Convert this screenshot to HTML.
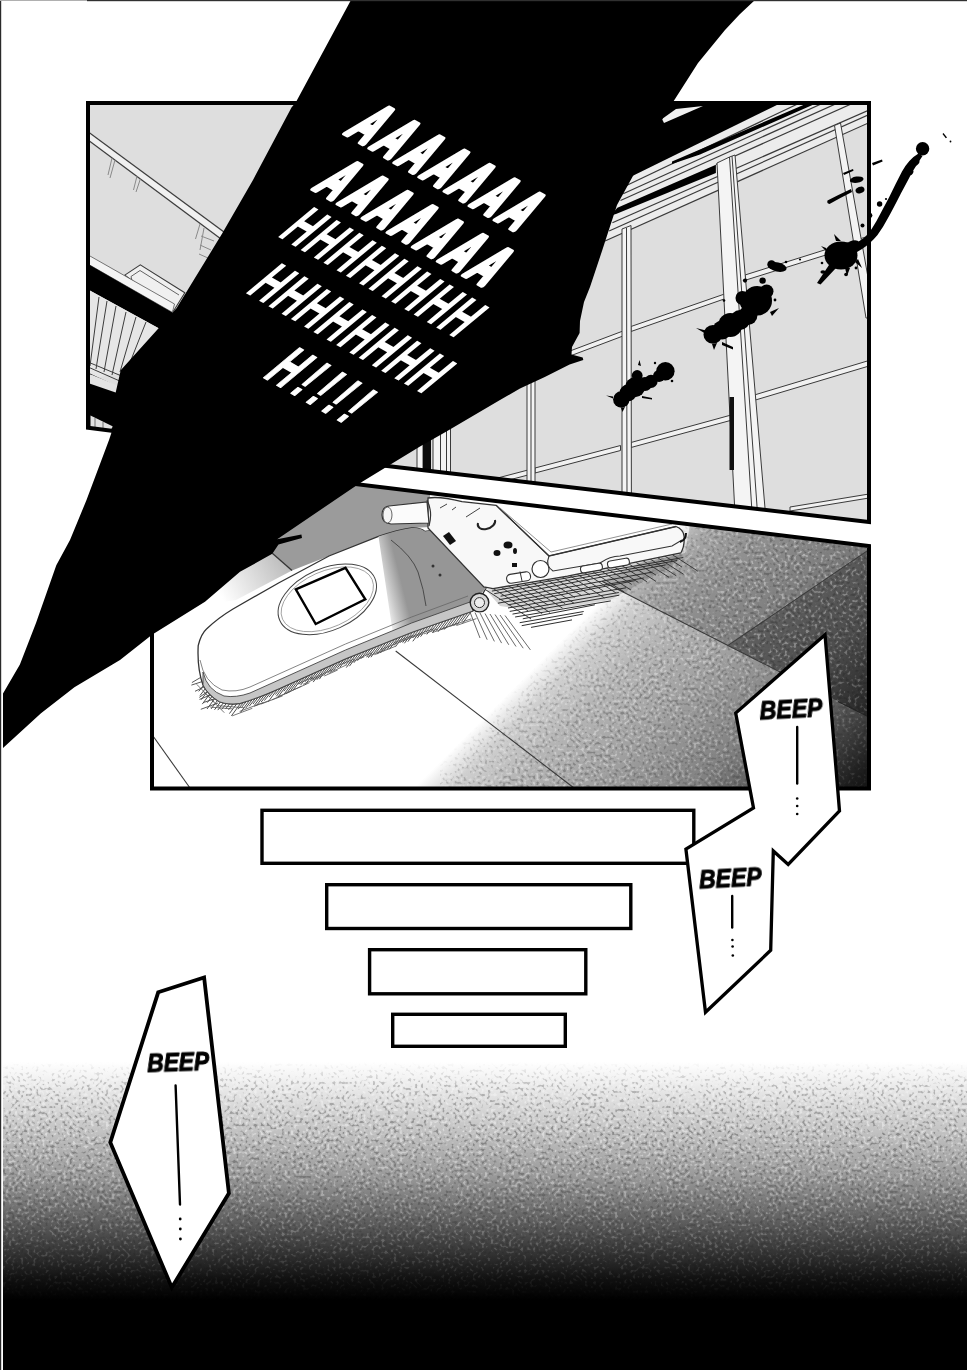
<!DOCTYPE html>
<html lang="en">
<head>
<meta charset="utf-8">
<title>Page</title>
<style>
html,body{margin:0;padding:0;background:#fff;}
body{width:967px;height:1370px;overflow:hidden;position:relative;font-family:"Liberation Sans",sans-serif;}
svg{display:block;position:absolute;left:0;top:0;}
.scream{font-family:"Liberation Sans",sans-serif;font-weight:700;font-style:normal;fill:#fff;}
.beep{font-family:"Liberation Sans",sans-serif;font-weight:700;font-style:italic;fill:#000;}
</style>
</head>
<body>
<svg width="967" height="1370" viewBox="0 0 967 1370">
<defs>
  <linearGradient id="gBottom" x1="0" y1="1062" x2="0" y2="1300" gradientUnits="userSpaceOnUse">
    <stop offset="0" stop-color="#ffffff"/>
    <stop offset="0.06" stop-color="#f4f4f4"/>
    <stop offset="0.17" stop-color="#dcdcdc"/>
    <stop offset="0.32" stop-color="#bcbcbc"/>
    <stop offset="0.48" stop-color="#999999"/>
    <stop offset="0.64" stop-color="#686868"/>
    <stop offset="0.80" stop-color="#343434"/>
    <stop offset="0.91" stop-color="#111111"/>
    <stop offset="1" stop-color="#000000"/>
  </linearGradient>
  <linearGradient id="gFloor" x1="606" y1="596" x2="832" y2="822" gradientUnits="userSpaceOnUse">
    <stop offset="0" stop-color="#ffffff"/>
    <stop offset="0.08" stop-color="#d0d0d0"/>
    <stop offset="0.2" stop-color="#b6b6b6"/>
    <stop offset="0.375" stop-color="#a2a2a2"/>
    <stop offset="0.625" stop-color="#808080"/>
    <stop offset="0.81" stop-color="#484848"/>
    <stop offset="0.95" stop-color="#1e1e1e"/>
    <stop offset="1" stop-color="#141414"/>
  </linearGradient>
  <clipPath id="cp1"><polygon points="88,103 869,103 869,522 385,465.8 88,427.7"/></clipPath>
  <clipPath id="cp2"><polygon points="152,459.5 869,546 869,788.5 152,788.5"/></clipPath>
  <linearGradient id="gTileL" x1="285" y1="562" x2="222" y2="598" gradientUnits="userSpaceOnUse">
    <stop offset="0" stop-color="#bcbcbc"/>
    <stop offset="0.5" stop-color="#dedede"/>
    <stop offset="1" stop-color="#ffffff"/>
  </linearGradient>
  <linearGradient id="gFace" x1="378" y1="590" x2="402" y2="584" gradientUnits="userSpaceOnUse">
    <stop offset="0" stop-color="#ffffff"/>
    <stop offset="0.5" stop-color="#c8c8c8"/>
    <stop offset="1" stop-color="#969696"/>
  </linearGradient>
  <filter id="grain" x="0" y="0" width="100%" height="100%" color-interpolation-filters="sRGB">
    <feTurbulence type="fractalNoise" baseFrequency="0.33" numOctaves="1" seed="7" result="n"/>
    <feColorMatrix in="n" type="matrix" values="0 0 0 0 1  0 0 0 0 1  0 0 0 0 1  7 0 0 0 -3.9"/>
  </filter>
  <filter id="grainD" x="0" y="0" width="100%" height="100%" color-interpolation-filters="sRGB">
    <feTurbulence type="fractalNoise" baseFrequency="0.33" numOctaves="1" seed="7" result="n"/>
    <feColorMatrix in="n" type="matrix" values="0 0 0 0 0  0 0 0 0 0  0 0 0 0 0  -7 0 0 0 3.1"/>
  </filter>
  <mask id="mBottom" maskUnits="userSpaceOnUse" x="0" y="1050" width="967" height="320">
    <rect x="0" y="1050" width="967" height="320" fill="url(#gBottomM)"/>
  </mask>
  <linearGradient id="gBottomM" x1="0" y1="1062" x2="0" y2="1300" gradientUnits="userSpaceOnUse">
    <stop offset="0" stop-color="#000"/>
    <stop offset="0.1" stop-color="#999"/>
    <stop offset="0.3" stop-color="#ccc"/>
    <stop offset="0.6" stop-color="#888"/>
    <stop offset="0.85" stop-color="#333"/>
    <stop offset="1" stop-color="#000"/>
  </linearGradient>
  <mask id="mFloor" maskUnits="userSpaceOnUse" x="150" y="450" width="722" height="340">
    <rect x="150" y="450" width="722" height="340" fill="url(#gFloorM)"/>
  </mask>
  <linearGradient id="gFloorM" x1="606" y1="596" x2="832" y2="822" gradientUnits="userSpaceOnUse">
    <stop offset="0" stop-color="#000"/>
    <stop offset="0.06" stop-color="#888"/>
    <stop offset="0.3" stop-color="#bbb"/>
    <stop offset="0.7" stop-color="#777"/>
    <stop offset="1" stop-color="#222"/>
  </linearGradient>
</defs>

<!-- page -->
<rect x="0" y="0" width="967" height="1370" fill="#ffffff"/>

<!-- bottom gradient -->
<g id="bottom-gradient">
  <rect x="3" y="1060" width="964" height="310" fill="url(#gBottom)"/>
  <g mask="url(#mBottom)"><rect x="3" y="1060" width="964" height="250" fill="#fff" filter="url(#grain)" opacity="0.55"/></g>
  <g mask="url(#mBottom)"><rect x="3" y="1060" width="964" height="250" fill="#000" filter="url(#grainD)" opacity="0.35"/></g>
</g>

<!-- PANEL 1 -->
<g id="panel1">
  <polygon points="88,103 869,103 869,522 385,465.8 88,427.7" fill="#dedede"/>
  <g id="p1-art" clip-path="url(#cp1)">
  <!-- left: building exterior -->
  <g id="p1-left">
    <!-- handrail beam (double line) -->
    <polygon points="88,131.7 88,140 221,239 224,232.1" fill="#f0f0f0"/>
    <g stroke="#3e3e3e" stroke-width="1.3" fill="none">
      <line x1="88" y1="131.7" x2="224" y2="232.1"/>
      <line x1="88" y1="140" x2="221" y2="239"/>
    </g>
    <g stroke="#8a8a8a" stroke-width="1" fill="none">
      <path d="M112,158 L108,175 M115,160 L110,178"/>
      <path d="M137,176 L133.5,190 M140.5,178.5 L136,192"/>
      <path d="M200,224 L195.5,239 M204,228 L200,250"/>
      <path d="M201,236 L214,241 M200,245 L211,250 M199,254 L208,258"/>
    </g>
    <!-- box -->
    <polygon points="124.8,275.1 140.3,264.8 184.8,292.7 173.4,311.3" fill="#f0f0f0" stroke="#3c3c3c" stroke-width="1.1"/>
    <path d="M131,276.5 L140,270.5 L179,295 M131,276.5 L132,280.5 L171,305" fill="none" stroke="#555" stroke-width="0.9"/>
    <!-- white band + dark beam -->
    <polygon points="88,254.9 174.5,304 172.4,312.4 88,264.1" fill="#f4f4f4" stroke="#555" stroke-width="0.8"/>
    <polygon points="88,264.1 172.4,312.4 180,316 160,329 88,289.4" fill="#000"/>
    <!-- railing region -->
    <polygon points="88,289.4 160,329 122,372 88,380" fill="#e6e6e6"/>
    <g stroke="#3c3c3c" stroke-width="1" fill="none">
      <path d="M99,297 L90,366"/>
      <path d="M107,301 L96,369"/>
      <path d="M116,306 L104,372"/>
      <path d="M126,312 L112,375"/>
      <path d="M136,317 L120,372"/>
      <path d="M146,322 L131,360"/>
      <path d="M88,362 L124,377"/>
      <path d="M88,367 L122,382"/>
      <path d="M88,373 L120,388"/>
    </g>
    <!-- lower black -->
    <polygon points="88,381 122,391 160,380 160,440 88,440" fill="#000"/>
    <polygon points="88,376 92,375 124,388 120,394 88,383" fill="#e4e4e4"/>
    <polygon points="90.5,415.5 113,426.5 111,429.5 90.5,428" fill="#e0e0e0"/>
    <g stroke="#555" stroke-width="0.8"><line x1="95" y1="418" x2="95" y2="428"/><line x1="103" y1="422" x2="103" y2="428.5"/></g>
  </g>

  <!-- right: window -->
  <g id="p1-window">
    <!-- top frame (light) -->
    <polygon points="600,191.8 780,103.6 869,100 869,122.7 600,243.2" fill="#ececec"/>
    <!-- black band -->
    <polygon points="600,103 781,103 629.8,177.2 600,191.8" fill="#000"/>
    <polygon points="676,109 703,106 664,123 662,119" fill="#f0f0f0"/>
    <g stroke="#3a3a3a" stroke-width="1.2" fill="none">
      <line x1="626.5" y1="185.5" x2="806" y2="100"/>
      <line x1="623.2" y1="193.7" x2="831" y2="99.5"/>
      <line x1="620.5" y1="200.5" x2="850" y2="97.5"/>
      <line x1="716" y1="164.5" x2="869" y2="96"/>
      <line x1="612.4" y1="222.7" x2="869" y2="110"/>
      <line x1="609.1" y1="231" x2="869" y2="114.5"/>
      <line x1="605" y1="241" x2="869" y2="122.7"/>
    </g>
    <polygon points="617.4,207.8 715.9,164.8 715.9,173 616.6,213.8 610,216" fill="#000"/>
    <polygon points="672,161.5 700,149.5 808,103 817,103 700,154.5 672,164" fill="#000"/>

    <!-- horizontal rails -->
    <g fill="#f1f1f1" stroke="#3a3a3a" stroke-width="1">
      <polygon points="570,351 623,331 623,336 570,356"/>
      <polygon points="631,326.5 726,293.5 727,298 631,331.5"/>
      <polygon points="745,275 869,236 869,241.5 746,280"/>
      <polygon points="448,491 528,470 528,475 448,496"/>
      <polygon points="535,468 620.5,445.5 620.5,450.5 535,473"/>
      <polygon points="631,442.5 733,414.5 734,419.5 631,447.5"/>
      <polygon points="755,394.8 869,360.5 869,366 755.5,400"/>
      <polygon points="790,507 869,494 869,498 790,511"/>
    </g>
    <!-- mullions -->
    <g fill="#f4f4f4" stroke="#3a3a3a" stroke-width="1">
      <polygon points="622,229 631,225.5 631.4,500 622,500"/>
      <polygon points="527,383 535,379 535,485 527,485"/>
      <polygon points="433,428 450.5,418 450.5,474 433,474"/>
      <polygon points="417,438 423,434 423,472 417,472"/>
      <polygon points="717,163 729.5,157 735,155 766,520 735.3,520"/>
      <polygon points="834.5,125.5 840.5,123 869,283 869,318 866,318"/>
    </g>
    <g stroke="#3a3a3a" stroke-width="1" fill="none">
      <line x1="626.5" y1="228" x2="627" y2="500"/>
      <line x1="729.5" y1="157" x2="752.5" y2="520"/>
      <line x1="732" y1="156" x2="758" y2="520"/>
      <line x1="531" y1="381" x2="531" y2="485"/>
      <line x1="440.5" y1="424" x2="440.5" y2="474"/><line x1="446.5" y1="420" x2="446.5" y2="474"/>
    </g>
    <rect x="729.5" y="397" width="4.5" height="73" fill="#111"/>
    <polygon points="423,434 431,429 431,474 423,474" fill="#0a0a0a"/>
  </g>
</g>
  <polygon points="88,103 869,103 869,522 385,465.8 88,427.7" fill="none" stroke="#000" stroke-width="4" stroke-linejoin="miter"/>
</g>

<!-- PANEL 2 -->
<g id="panel2">
  <polygon points="152,459.5 869,546 869,788.5 152,788.5" fill="#ffffff"/>
  <g id="p2-art" clip-path="url(#cp2)">
  <rect x="150" y="450" width="722" height="340" fill="url(#gFloor)"/>
  <polygon points="602,581.3 728,645.4 869,549.7 869,546 690,524 685,553 640,563" fill="#000" opacity="0.2"/>
  <polygon points="728,645.4 869,549.7 869,717 779,671.4" fill="#000" opacity="0.40"/>
  <g mask="url(#mFloor)"><rect x="440" y="480" width="432" height="310" fill="#fff" filter="url(#grain)" opacity="0.5"/></g>
  <g mask="url(#mFloor)"><rect x="440" y="480" width="432" height="310" fill="#000" filter="url(#grainD)" opacity="0.3"/></g>
  <!-- shadowed floor top-left -->
  <polygon points="272.3,553.2 262,540 340,470 430,470 430,527 411.6,528 378.5,536.4 329,556 292,570.6" fill="#9b9b9b"/>
  <polygon points="272.3,553.2 292,570.6 236,600 196,606 230,560" fill="url(#gTileL)"/>
  <line x1="272.3" y1="553.2" x2="292" y2="570.6" stroke="#333" stroke-width="1.3"/>
  <!-- floor tile lines -->
  <g stroke="#3a3a3a" stroke-width="1.1" fill="none">
    <line x1="395.7" y1="651" x2="574" y2="788"/>
    <line x1="153" y1="736" x2="190" y2="788"/>
    <line x1="602" y1="581.3" x2="779" y2="671.4"/>
    <line x1="779" y1="671.4" x2="800" y2="682" stroke="#222"/>
    <line x1="728" y1="645.4" x2="869" y2="549.7"/>
    <line x1="838" y1="701.4" x2="869" y2="717" stroke="#222"/>
  </g>

  <!-- hatching shadows -->
  <g id="hatch">
    <polygon points="486,590 684,554 672,566 610,600 540,612 500,606" fill="#000" opacity="0.16"/>
    <path d="M491.9,591.1 L683.3,557.5 M494.2,593.7 L677.1,560.5 M500.6,596.2 L665.5,564.9 M499.1,599.7 L652.4,572.1 M497.9,603.2 L643.8,578.0 M507.8,604.9 L634.8,580.7 M508.0,608.0 L626.0,587.8 M509.7,611.4 L618.8,592.5 M512.5,614.1 L619.3,595.2 M515.1,617.0 L610.8,600.9 M522.8,618.8 L594.8,604.8 M519.7,622.7 L583.7,611.5 M521.7,625.7 L582.7,614.1 M531.0,627.4 L572.0,619.9" stroke="#2e2e2e" stroke-width="1" fill="none"/>
    <path d="M484.3,588.9 L531.1,619.0 M491.8,587.6 L528.2,610.9 M499.4,586.2 L542.2,613.7 M506.9,584.8 L549.8,612.4 M514.4,583.4 L548.2,605.2 M521.9,582.1 L562.6,608.2 M529.5,580.7 L565.1,603.6 M537.0,579.3 L573.9,603.1 M544.5,578.0 L574.8,597.5 M552.0,576.6 L581.9,595.8 M559.6,575.2 L589.9,594.8 M567.1,573.9 L604.4,597.9 M574.6,572.5 L603.4,591.0 M582.1,571.1 L615.8,592.8 M589.7,569.8 L624.2,592.0 M597.2,568.4 L631.0,590.1 M604.7,567.0 L631.7,584.4 M612.2,565.7 L638.4,582.5 M619.8,564.3 L646.8,581.7 M627.3,562.9 L656.0,581.4 M634.8,561.6 L656.0,575.2 M642.3,560.2 L669.1,577.4 M649.8,558.8 L676.3,575.8 M657.4,557.5 L683.6,574.3 M664.9,556.1 L682.0,567.1 M672.4,554.7 L697.8,571.1" stroke="#2e2e2e" stroke-width="0.9" fill="none"/>
    <path d="M470.0,612.0 L480.0,638.0 M475.0,612.5 L487.2,639.7 M480.0,613.0 L494.4,641.4 M485.0,613.5 L501.6,643.1 M490.0,614.0 L508.8,644.8 M495.0,614.5 L516.0,646.5 M500.0,615.0 L523.2,648.2 M505.0,615.5 L530.4,649.9" stroke="#444" stroke-width="0.8" fill="none"/>
    <path d="M203.5,685.5 L198.7,691.4 M205.9,687.9 L200.0,695.5 M208.3,690.3 L201.2,699.7 M210.7,692.7 L202.3,704.1 M213.0,695.2 L207.2,702.7 M215.4,697.6 L207.0,709.0 M217.8,700.0 L211.1,708.9 M220.2,702.4 L214.5,709.8 M223.5,702.7 L217.8,710.1 M226.8,702.9 L221.7,709.4 M230.1,703.2 L225.5,709.0 M233.5,703.5 L228.5,709.8 M236.8,703.7 L229.4,713.6 M240.1,704.0 L231.4,715.9 M243.2,702.9 L238.1,709.2 M246.2,701.7 L241.6,707.3 M249.3,700.6 L240.6,712.4 M252.3,699.4 L245.6,708.3 M255.4,698.3 L249.2,706.3 M258.4,697.1 L253.0,704.0 M261.5,696.0 L254.5,705.2 M264.5,694.8 L256.5,705.6 M267.6,693.7 L261.2,702.0 M270.6,692.5 L264.4,700.6 M273.7,691.4 L269.1,697.1 M276.7,690.2 L268.4,701.6 M279.8,689.1 L275.3,694.6 M282.8,687.7 L276.3,696.3 M285.8,686.4 L277.8,697.3 M288.8,685.0 L283.9,691.2 M291.8,683.7 L284.3,693.9 M294.8,682.3 L286.3,693.9 M297.9,681.0 L290.7,690.5 M300.9,679.6 L293.0,690.2 M303.9,678.3 L299.1,684.3 M306.9,676.9 L300.6,685.1 M309.9,675.6 L304.9,681.9 M312.9,674.2 L304.8,685.1 M315.9,672.8 L310.3,680.1 M318.9,671.5 L312.6,679.8 M321.9,670.1 L313.2,682.1 M324.9,668.8 L316.8,679.8 M327.9,667.4 L319.3,679.2 M331.0,666.1 L324.6,674.4 M334.0,664.7 L327.5,673.3 M337.0,663.4 L329.4,673.5 M340.0,662.0 L333.5,670.5 M343.0,660.7 L337.4,667.9 M346.0,659.3 L339.9,667.3 M349.0,658.1 L344.0,664.4 M352.0,656.9 L346.0,664.7 M355.0,655.7 L346.3,667.6 M358.0,654.5 L349.4,666.2 M361.0,653.3 L353.9,662.8 M364.0,652.1 L357.5,660.7 M367.0,650.9 L361.2,658.5 M370.0,649.7 L365.3,655.6 M373.0,648.5 L367.5,655.6 M376.0,647.3 L368.3,657.8 M379.1,646.1 L370.9,657.2 M382.1,644.9 L376.1,652.6 M385.1,643.7 L377.3,654.2 M388.1,642.5 L380.3,653.0 M391.1,641.3 L383.7,651.2 M394.1,640.1 L386.8,649.8 M397.1,638.9 L389.4,649.3 M400.1,637.7 L394.1,645.4 M403.1,636.5 L395.6,646.5 M406.1,635.3 L400.5,642.5 M409.1,634.1 L402.6,642.6 M412.1,632.9 L404.4,643.3 M415.2,631.8 L407.8,641.7 M418.2,630.8 L412.6,638.0 M421.3,629.7 L412.8,641.3 M424.4,628.6 L417.2,638.2 M427.5,627.5 L420.5,636.7 M430.5,626.5 L426.1,631.9 M433.6,625.4 L426.8,634.4 M436.7,624.3 L431.2,631.3 M439.7,623.3 L432.4,633.0 M442.8,622.2 L436.4,630.6 M445.9,621.1 L437.9,631.9 M448.9,620.1 L441.7,629.7 M452.0,619.0 L444.2,629.6 M455.1,617.9 L449.2,625.5 M458.1,616.9 L451.0,626.4 M461.2,615.8 L453.6,626.0 M464.3,614.7 L456.3,625.5 M467.4,613.6 L461.5,621.3 M470.4,612.6 L462.4,623.5" stroke="#3a3a3a" stroke-width="0.9" fill="none"/>
    <path d="M196.7,684.3 L214.3,702.1 M203.7,691.9 L224.3,712.7 M210.3,707.1 L232.7,708.9 M217.2,705.6 L244.5,707.8 M232.1,715.9 L252.3,708.3 M239.7,711.4 L263.6,702.4 M253.8,706.4 L269.5,700.5 M260.8,704.1 L282.6,695.9 M271.9,699.8 L290.9,691.3 M277.6,697.0 L301.6,686.2 M286.3,693.2 L309.5,682.7 M297.5,684.0 L312.6,677.2 M303.0,684.4 L325.2,674.3 M310.6,679.4 L333.4,669.2 M324.3,676.0 L337.7,670.0 M330.9,672.0 L347.0,664.7 M339.0,665.1 L354.0,659.1 M348.6,663.1 L364.3,656.8 M358.9,658.1 L372.4,652.7 M366.2,657.0 L384.9,649.6 M374.4,654.7 L396.2,646.0 M380.8,649.6 L407.3,639.1 M393.5,643.0 L412.6,635.4 M403.3,640.5 L422.7,633.7 M408.6,637.5 L434.4,628.5 M423.8,633.9 L437.6,629.1 M432.6,632.5 L447.2,627.4 M439.4,629.6 L457.7,623.2 M443.6,628.4 L471.3,618.8 M456.8,625.4 L476.4,618.6" stroke="#555" stroke-width="0.8" fill="none"/>
    <path d="M203.0,676.0 L191.9,682.6 M205.5,680.5 L191.4,685.1 M208.0,685.0 L195.0,691.3 M210.5,689.5 L199.3,697.4 M213.0,694.0 L199.5,699.4 M215.5,698.5 L203.4,702.5 M218.0,703.0 L200.8,709.3" stroke="#444" stroke-width="0.9" fill="none"/>
  </g>

  <!-- phone: lower half (front cover) -->
  <g id="phone-front">
    <path d="M198.2,645.6 Q201,634 206.5,629 Q218,618 233,609 L279,582.7 L329,556 L378.5,536.4 Q398,530 411.6,528 Q420,527.5 425,531.4 L436,530 L486,588 L473,611 L411.6,632.4 L345.5,658.8 L279.3,688.6 Q256,699 239.6,703.5 Q228,705 219.7,701.9 Q208,695 203,685 Q197,668 198.2,645.6 Z" fill="#ffffff" stroke="#333" stroke-width="1.3"/>
    <path d="M378.5,536.4 Q398,530 411.6,528 Q420,527.5 425,531.4 L436,530 L486,588 L471,605 L411.6,626 L393,634 Z" fill="url(#gFace)"/>
    <path d="M391,540 Q412,556 418,572 Q424,590 426,606" fill="none" stroke="#4a4a4a" stroke-width="1"/>
    <path d="M203,672 Q207,690 224,696 Q236,698 250,693 L345.5,650 L411.6,623 L470,602 L473,611 L411.6,632.4 L345.5,658.8 L279.3,688.6 Q256,699 239.6,703.5 Q228,705 219.7,701.9 Q208,695 203,685 Z" fill="#c6c6c6" stroke="#444" stroke-width="0.9"/>
    <path d="M200,660 Q204,682 222,690 Q236,693 250,687 L345.5,644 L411.6,617 L468,596" fill="none" stroke="#666" stroke-width="0.8"/>
    <ellipse cx="327.3" cy="599.3" rx="52" ry="31" transform="rotate(-24 327.3 599.3)" fill="none" stroke="#444" stroke-width="1"/>
    <ellipse cx="327.3" cy="599.3" rx="49" ry="28" transform="rotate(-24 327.3 599.3)" fill="none" stroke="#888" stroke-width="0.7"/>
    <polygon points="295.8,589.3 345.5,567.8 365.3,599.3 315.7,624" fill="#fff" stroke="#000" stroke-width="2.4" stroke-linejoin="miter"/>
    <circle cx="433" cy="566" r="1.5" fill="#333"/><circle cx="440" cy="575" r="1.5" fill="#333"/>
    
    <!-- hinge -->
    <circle cx="479.5" cy="602.6" r="9.3" fill="#d8d8d8" stroke="#222" stroke-width="1.4"/>
    <circle cx="479.5" cy="602.6" r="5" fill="#eee" stroke="#333" stroke-width="1"/>
  </g>

  <!-- phone: upper half -->
  <g id="phone-upper">
    <path d="M428,498 Q440,496 462,501.7 L496.2,505.4 L549,556 L676,526.5 Q683,529 684,535.8 Q685,546 680.8,553 L635.8,562.2 L567.5,576.2 L493,588.6 L483.8,587 L428,528 Z" fill="#f8f8f8" stroke="#333" stroke-width="1.3"/>
    <path d="M496.2,505.4 L549,556 L676,526.5" fill="none" stroke="#333" stroke-width="1.1"/>
    <path d="M549,556 Q545,566 553,571 L600,563 Q610,556 620,556 L672,546 L682,540" fill="none" stroke="#333" stroke-width="1.1"/>
    <path d="M500,508 L551,552 L672,524" fill="none" stroke="#777" stroke-width="0.8"/>
    <!-- side buttons -->
    <rect x="0" y="0" width="22" height="7" rx="3" transform="translate(580,566.5) rotate(-10)" fill="#fff" stroke="#333" stroke-width="1.1"/>
    <rect x="0" y="0" width="22" height="7" rx="3" transform="translate(607,561.5) rotate(-10)" fill="#fff" stroke="#333" stroke-width="1.1"/>
    <circle cx="540.5" cy="569" r="8.5" fill="#fff" stroke="#333" stroke-width="1.2"/>
    <rect x="0" y="0" width="24" height="9" rx="4" transform="translate(506,575) rotate(-9)" fill="#fff" stroke="#333" stroke-width="1.1"/>
    <line x1="520" y1="571.5" x2="522" y2="581" stroke="#333" stroke-width="1"/>
    <!-- details on back -->
    <path d="M478,523 A9,6 -20 1 0 495,520" fill="none" stroke="#222" stroke-width="2"/>
    <polygon points="443,536 449,532 456,541 450,545" fill="#111"/>
    <ellipse cx="508" cy="545" rx="4.5" ry="3.5" fill="#111"/><ellipse cx="497" cy="553" rx="3.5" ry="3" fill="#111"/><ellipse cx="515" cy="551" rx="2" ry="3" fill="#111"/>
    <rect x="512" y="563" width="5" height="4" fill="#111"/>
    <path d="M440,508 L447,504 M452,510 L456,507 M466,517 L480,508" stroke="#444" stroke-width="1" fill="none"/>
    <path d="M680,542 Q686,540 686,533" fill="none" stroke="#111" stroke-width="2"/>
    <!-- antenna -->
    <path d="M389,506 L427,502 L429,523 L391,524 Q382,523 382,515 Q382,507 389,506 Z" fill="#fbfbfb" stroke="#333" stroke-width="1.2"/>
    <ellipse cx="387.5" cy="515" rx="4.5" ry="8" fill="#f4f4f4" stroke="#555" stroke-width="0.9"/>
    <path d="M427,500 Q433,512 429,526" fill="none" stroke="#333" stroke-width="1.2"/>
  </g>
</g>
  <polygon points="152,459.5 869,546 869,788.5 152,788.5" fill="none" stroke="#000" stroke-width="4" stroke-linejoin="miter"/>
</g>

<!-- BLOOD -->
<g id="blood" fill="#000" stroke="none">
  <circle cx="922.6" cy="148.8" r="6.7"/>
  <path d="M918.5,153.5 L922.5,156 Q916,166 912,172.5 Q905,186 901,193.2 Q893,209 888,218 Q883,227.5 877.5,235 Q870,244 862,249 L852,255 L848,249 Q859,243 866,236 Q872,229.5 876.5,221 Q884.5,206 889,197.5 Q896,183 902,171.5 Q909,159 918.5,153.5 Z"/>
  <ellipse cx="916.5" cy="162.5" rx="3.4" ry="2.4" transform="rotate(-50 916.5 162.5)"/>
  <ellipse cx="911" cy="172.5" rx="3" ry="2" transform="rotate(-55 911 172.5)"/>
  <ellipse cx="841" cy="255.5" rx="16.5" ry="14"/>
  <ellipse cx="852" cy="247.5" rx="9" ry="6" transform="rotate(-35 852 247.5)"/>
  <path d="M831,262 L817,283 L820.5,284.5 L836,268 Z"/>
  <path d="M826,248 L821,246 L827,252 Z M845,268 L847,276 L850,268 Z M855,262 L862,268 L858,259 Z M836,241 L834,234 L841,241 Z"/>
  <ellipse cx="823" cy="272" rx="2.6" ry="1.8"/><circle cx="846" cy="274.5" r="1.8"/><circle cx="856" cy="268" r="1.4"/><circle cx="822" cy="263" r="1.3"/>
  <path d="M848,248 L866,237 L868,240 L852,252 Z"/>
  <ellipse cx="856.7" cy="179.7" rx="6.9" ry="3.2" transform="rotate(-8 856.7 179.7)"/>
  <ellipse cx="860" cy="190" rx="4.6" ry="3.2" transform="rotate(-20 860 190)"/>
  <path d="M827.5,200.5 Q838,195 851,189 L852,192 Q840,198 829.5,204 Q826.5,203.5 827.5,200.5 Z"/>
  <path d="M843,173 L853,169 L853.5,170.8 L844,175 Z"/>
  <path d="M872,163 L882,159.5 L882.6,161.5 L873,165.5 Z"/>
  <circle cx="879.6" cy="204" r="2.7"/><circle cx="870" cy="215.5" r="2.4"/><circle cx="862.5" cy="225.5" r="2"/><circle cx="886" cy="199" r="1.1"/>
  <path d="M943.5,133 L947,137.5 L945.8,138.2 L942.5,134 Z"/><circle cx="950.5" cy="141.5" r="0.9"/>
  <!-- blob 2 -->
  <circle cx="712.9" cy="334.4" r="9.4"/>
  <circle cx="722" cy="330" r="9.5"/>
  <circle cx="730.3" cy="325" r="12"/>
  <circle cx="740" cy="320" r="10"/>
  <circle cx="747.8" cy="315.5" r="9.6"/>
  <circle cx="757.2" cy="300.7" r="14.8"/>
  <circle cx="742.4" cy="298" r="6.9"/>
  <circle cx="748" cy="303" r="8"/>
  <circle cx="766.6" cy="291.3" r="6.9"/>
  <ellipse cx="777.4" cy="267" rx="9.4" ry="4.6" transform="rotate(12 777.4 267)"/>
  <circle cx="771.5" cy="264.5" r="4.2"/>
  <circle cx="762.6" cy="280.6" r="3.2"/><circle cx="745" cy="280.6" r="2.1"/>
  <path d="M696,328 L706,330.5 L706,334 Z M770,312 L779,308 L772,316 Z M712,344 L714,350 L717,343 Z M722,342 L733,347 L733,349.5 L722,345 Z"/>
  <circle cx="775" cy="300" r="1.4"/><circle cx="724" cy="300.5" r="1.3"/><circle cx="800" cy="259.5" r="1.1"/><circle cx="786" cy="262" r="1.3"/>
  <!-- blob 3 -->
  <circle cx="621.3" cy="399.5" r="8.2"/>
  <circle cx="628" cy="393" r="8.5"/>
  <circle cx="635" cy="387.2" r="10"/>
  <circle cx="637.2" cy="375.5" r="5.4"/>
  <circle cx="645" cy="384" r="7"/>
  <circle cx="651" cy="381.4" r="6.6"/>
  <circle cx="665.4" cy="371.3" r="9.2"/>
  <circle cx="659" cy="376" r="6"/>
  <path d="M621,408 L622.5,412 L625,407 Z M642,396 L652,398 L652,399.6 L642,398 Z M606,395.5 L613,396.5 L613,398.5 Z M638,365 L639.5,360 L641,366 Z"/>
  <circle cx="672" cy="381" r="1.3"/><circle cx="655" cy="363" r="1.2"/>
</g>

<!-- BLACK SHAPE -->
<g id="shadow">
  <path d="M351,0 L755,0 L740,14 L725,30 L698,63 L675,99 L664,116 L639,165 L617,205 L602,251 L590,287 L584,302 L580,321 L579.6,333 L572,347 L571.5,354.6 L582.7,357.5 L583.3,360 L569.6,364.5 L544.8,377 L520,388.5 L500,400 L446,431.8 L420,446.6 L392.5,463.2 L362.6,481.4 L352.7,488 L277.2,539.2 L301.4,534.6 L302,537.9 L278.5,544.6 L272.3,553.8 L240,571.8 L205,601.7 L152,634.8 L120,660 L74.4,687.3 L41,713.3 L3,748 L3,693.5 L19.9,664.6 L36,623 L56.3,565.3 L70,540 L86.5,500 L109.2,439.6 L112.5,429.6 L114,400 L120.7,370.3 L157.9,328.9 L176.5,308.2 L222,233.8 L253,180 L291.5,107.6 L296,102 Z" fill="#000"/>
</g>

<!-- SCREAM TEXT -->
<g id="scream" class="scream" font-size="40" stroke="#fff" stroke-linejoin="round" opacity="0.999">
  <text transform="matrix(0.738,0.422,-1.305,1.087,343.8,132.7)" x="0" y="0" stroke-width="3.2" letter-spacing="5.1">AAAAAAA</text>
  <text transform="matrix(0.738,0.422,-1.305,1.087,312.1,188.3)" x="0" y="0" stroke-width="3.2" letter-spacing="5.1">AAAAAAA</text>
  <text transform="matrix(0.738,0.422,-1.305,1.087,276.3,235.8)" x="0" y="0" letter-spacing="1.7" stroke-width="0">HHHHHHHH</text>
  <text transform="matrix(0.738,0.422,-1.305,1.087,243.9,292)" x="0" y="0" letter-spacing="1.7" stroke-width="0">HHHHHHHH</text>
  <text transform="matrix(0.738,0.422,-1.305,1.087,261.5,376.4)" x="0 36 57 78 99" y="0" stroke-width="0.8">H!!!!</text>
</g>

<!-- RECTANGLES -->
<g id="rects" fill="#fff" stroke="#000" stroke-width="3.4">
  <rect x="262" y="810.3" width="431.8" height="53"/>
  <rect x="326.7" y="884.7" width="304.1" height="43.8"/>
  <rect x="369.6" y="949.7" width="216.2" height="44.1"/>
  <rect x="392.7" y="1014.3" width="172.6" height="32"/>
</g>

<!-- BUBBLES -->
<g id="bubbles">
  <path d="M825,634.7 L735.7,713 L753.5,808 L685.9,849 L705.5,1012.3 L770.7,950.3 L773.3,851 L788.2,864.5 L839.5,811 Z" fill="#fff" stroke="#000" stroke-width="3.3" stroke-linejoin="miter"/>
  <path d="M158.2,992.3 L204.1,977.4 L228.9,1193.3 L171.8,1287.5 L110.3,1142.4 Z" fill="#fff" stroke="#000" stroke-width="3.8" stroke-linejoin="miter"/>
  <g class="beep" font-size="26.5" stroke="#000" stroke-width="1.1" stroke-linejoin="round" opacity="0.999">
    <text transform="translate(760,719.5) rotate(-3)" textLength="63" lengthAdjust="spacingAndGlyphs">BEEP</text>
    <text transform="translate(699.5,888.5) rotate(-3)" textLength="62.5" lengthAdjust="spacingAndGlyphs">BEEP</text>
    <text transform="translate(147.5,1072) rotate(-2)" textLength="62" lengthAdjust="spacingAndGlyphs">BEEP</text>
  </g>
  <g stroke="#000" stroke-width="2.4" stroke-linecap="round" fill="none">
    <line x1="797.2" y1="727" x2="797.2" y2="783.5"/>
    <line x1="732.2" y1="896" x2="732.2" y2="927.5"/>
    <line x1="175.6" y1="1085.5" x2="180" y2="1204.5"/>
  </g>
  <g fill="#000">
    <circle cx="797.2" cy="798.5" r="1.3"/><circle cx="797.2" cy="806" r="1.3"/><circle cx="797.2" cy="814" r="1.3"/>
    <circle cx="732.4" cy="940" r="1.3"/><circle cx="732.6" cy="946.5" r="1.3"/><circle cx="732.8" cy="955.5" r="1.3"/>
    <circle cx="180.2" cy="1219" r="1.4"/><circle cx="180.3" cy="1229" r="1.4"/><circle cx="180.4" cy="1239" r="1.4"/>
  </g>
</g>

<!-- page edge lines -->
<rect x="0" y="0" width="1.2" height="1370" fill="#2a2a2a"/>
<rect x="0" y="0" width="87" height="1" fill="#b0b0b0"/>
<rect x="87" y="0" width="880" height="1.2" fill="#303030"/>
</svg>
</body>
</html>
